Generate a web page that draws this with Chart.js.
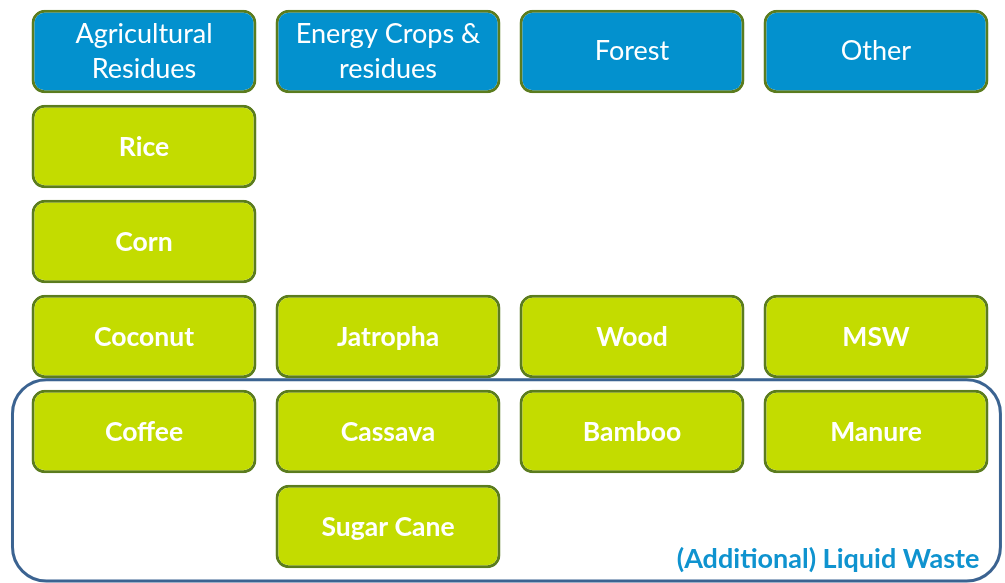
<!DOCTYPE html>
<html lang="en">
<head>
    <meta charset="UTF-8">
    <title>Biomass feedstock categories</title>
    <script src="https://cdn.jsdelivr.net/npm/chart.js"></script>
    <style>
        body {
            margin: 0;
            background: #fff;
        }
        .chart-box {
            width: 1005px;
            height: 583px;
            position: relative;
        }
    </style>
</head>
<body>
    <div class="chart-box">
        <canvas id="feedstockChart"></canvas>
    </div>
    <script>
        // Columns (categories) and their header captions
        const columns = ['Agricultural Residues', 'Energy Crops & residues', 'Forest', 'Other'];
        const headerLines = [['Agricultural', 'Residues'], ['Energy Crops &', 'residues'], ['Forest'], ['Other']];

        // Feedstocks, the column each belongs to and the row it sits in
        const items = ['Rice', 'Corn', 'Coconut', 'Coffee', 'Jatropha', 'Cassava', 'Sugar Cane', 'Wood', 'Bamboo', 'MSW', 'Manure'];
        const itemColumn = [0, 0, 0, 0, 1, 1, 1, 2, 2, 3, 3];
        const itemRow = [1, 2, 3, 4, 3, 4, 5, 3, 4, 3, 4];

        // Rows grouped as liquid waste
        const liquidRows = [4, 5];
        const liquidLabel = '(Additional) Liquid Waste';

        const FONT = "Lato, 'Open Sans', sans-serif";
        const TOP = 0.072, BOTTOM = 0.95;

        const headerData = columns.map((c) => ({ x: c, y: [TOP, BOTTOM] }));
        const itemData = items.map((name, i) => ({
            x: columns[itemColumn[i]],
            y: [itemRow[i] + TOP, itemRow[i] + BOTTOM]
        }));

        // Text inside each box
        const boxText = {
            id: 'boxText',
            afterDatasetsDraw(chart) {
                const ctx = chart.ctx;
                ctx.save();
                ctx.fillStyle = '#fff';
                ctx.textAlign = 'center';
                ctx.textBaseline = 'middle';
                ctx.font = '400 27px ' + FONT;
                chart.getDatasetMeta(0).data.forEach((bar, i) => {
                    const cy = (bar.y + bar.base) / 2;
                    const lines = headerLines[i];
                    lines.forEach((t, k) => {
                        ctx.fillText(t, bar.x, cy + (k - (lines.length - 1) / 2) * 35);
                    });
                });
                ctx.font = '700 26.5px ' + FONT;
                chart.getDatasetMeta(1).data.forEach((bar, i) => {
                    ctx.fillText(items[i], bar.x, (bar.y + bar.base) / 2 + 1);
                });
                ctx.restore();
            }
        };

        // Rounded outline around the liquid waste rows
        const liquidGroup = {
            id: 'liquidGroup',
            beforeDatasetsDraw(chart) {
                const { ctx, scales: { x, y } } = chart;
                const left = x.getPixelForValue(-0.539);
                const right = x.getPixelForValue(3.51);
                const top = y.getPixelForValue(liquidRows[0] - 0.035);
                const bottom = y.getPixelForValue(liquidRows[liquidRows.length - 1] + 1.085);
                ctx.save();
                ctx.strokeStyle = '#3b6391';
                ctx.lineWidth = 3;
                ctx.beginPath();
                ctx.roundRect(left, top, right - left, bottom - top, 34);
                ctx.stroke();
                ctx.fillStyle = '#0f93cf';
                ctx.font = '700 27px ' + FONT;
                ctx.textAlign = 'right';
                ctx.textBaseline = 'middle';
                ctx.fillText(liquidLabel, right - 21, bottom - 22);
                ctx.restore();
            }
        };

        new Chart(document.getElementById('feedstockChart'), {
            type: 'bar',
            data: {
                labels: columns,
                datasets: [
                    {
                        label: 'Category',
                        data: headerData,
                        backgroundColor: '#0391ce',
                        borderColor: '#5b7c1e',
                        borderWidth: 3,
                        borderRadius: 13,
                        borderSkipped: false,
                        grouped: false,
                        categoryPercentage: 1,
                        barPercentage: 0.922
                    },
                    {
                        label: 'Feedstock',
                        data: itemData,
                        backgroundColor: '#c3dc00',
                        borderColor: '#5b7c1e',
                        borderWidth: 3,
                        borderRadius: 13,
                        borderSkipped: false,
                        grouped: false,
                        categoryPercentage: 1,
                        barPercentage: 0.922
                    }
                ]
            },
            options: {
                responsive: true,
                maintainAspectRatio: false,
                animation: false,
                layout: { padding: { left: 22, right: 7, top: 3, bottom: 0 } },
                plugins: {
                    legend: { display: false },
                    tooltip: { enabled: false }
                },
                scales: {
                    x: { display: false },
                    y: { display: false, min: 0, max: 6.105, reverse: true }
                }
            },
            plugins: [liquidGroup, boxText]
        });
    </script>
</body>
</html>
